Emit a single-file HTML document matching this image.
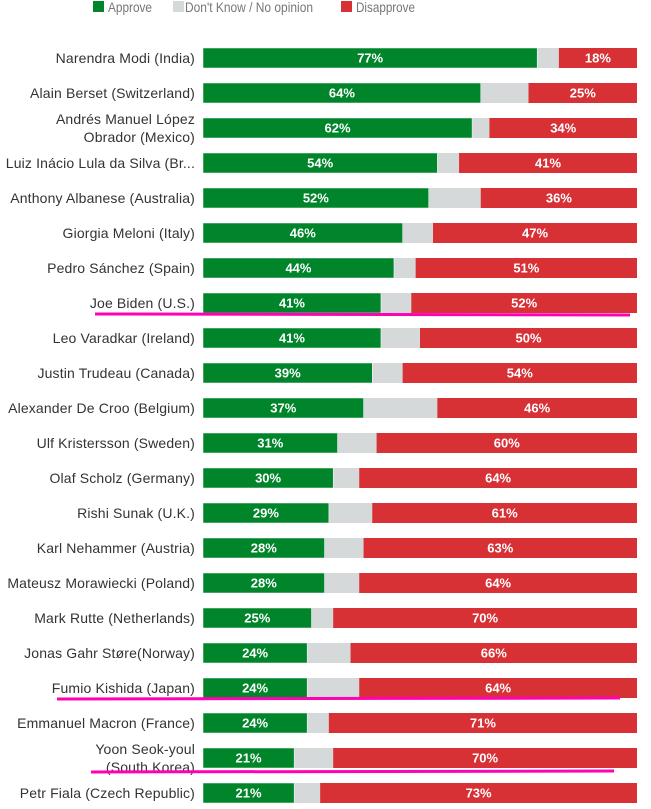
<!DOCTYPE html>
<html><head><meta charset="utf-8"><style>
body{margin:0;background:#fff;font-family:"Liberation Sans",sans-serif;}
svg{display:block}
</style></head><body>
<svg id="chart" width="651" height="809">
<g font-size="14" fill="#777">
<rect x="93" y="1" width="11" height="11" fill="#00852a"/>
<text x="108" y="12" textLength="44" lengthAdjust="spacingAndGlyphs">Approve</text>
<rect x="173" y="1" width="11" height="11" fill="#d6d9d9"/>
<text x="185" y="12" textLength="128" lengthAdjust="spacingAndGlyphs">Don't Know / No opinion</text>
<rect x="341" y="1" width="11" height="11" fill="#d73136"/>
<text x="356" y="12" textLength="59" lengthAdjust="spacingAndGlyphs">Disapprove</text>
</g>
<g id="rows"></g>
<g stroke="#ff00b4" stroke-width="3">
<line x1="95" y1="314" x2="630" y2="315"/>
<line x1="57" y1="699" x2="620" y2="698"/>
<line x1="91" y1="772" x2="614" y2="771"/>
</g>
</svg>
<script>
const leaders=[["Narendra Modi (India)"],["Alain Berset (Switzerland)"],["Andrés Manuel López","Obrador (Mexico)"],["Luiz Inácio Lula da Silva (Br..."],["Anthony Albanese (Australia)"],["Giorgia Meloni (Italy)"],["Pedro Sánchez (Spain)"],["Joe Biden (U.S.)"],["Leo Varadkar (Ireland)"],["Justin Trudeau (Canada)"],["Alexander De Croo (Belgium)"],["Ulf Kristersson (Sweden)"],["Olaf Scholz (Germany)"],["Rishi Sunak (U.K.)"],["Karl Nehammer (Austria)"],["Mateusz Morawiecki (Poland)"],["Mark Rutte (Netherlands)"],["Jonas Gahr Støre(Norway)"],["Fumio Kishida (Japan)"],["Emmanuel Macron (France)"],["Yoon Seok-youl","(South Korea)"],["Petr Fiala (Czech Republic)"]];
const approve=[77,64,62,54,52,46,44,41,41,39,37,31,30,29,28,28,25,24,24,24,21,21];
const disapprove=[18,25,34,41,36,47,51,52,50,54,46,60,64,61,63,64,70,66,64,71,70,73];
const x0=203,x1=637,top0=48,step=35,bh=20;
const xs=v=>x0+(x1-x0)*v/100;
const NS="http://www.w3.org/2000/svg";
const g=document.getElementById('rows');
function mk(t,a){const e=document.createElementNS(NS,t);for(const k in a)e.setAttribute(k,a[k]);return e;}
leaders.forEach((lab,i)=>{
 const y=top0+i*step, a=approve[i], d=disapprove[i];
 const r=mk('g',{});
 
 
 const lt=mk('text',{x:195,'text-anchor':'end','font-size':14,'letter-spacing':0.15,fill:'#333'});
 
 
 if(lab.length===1){lt.setAttribute('y',y+bh/2+5);lt.textContent=lab[0];}
 else{lab.forEach((s,j)=>{const ts=mk('tspan',{x:195,y:y+bh/2+5+(j===0?-9:9)});ts.textContent=s;lt.appendChild(ts);});}
 r.appendChild(lt);
 const bg=mk('rect',{x:x0,y:y,width:x1-x0,height:bh,fill:'#d6d9d9'});
 
 
 r.appendChild(bg);
 const ga=mk('rect',{x:x0,y:y,width:xs(a)-x0,height:bh,fill:'#00852a',stroke:'#fff','stroke-width':0.5});
 
 
 r.appendChild(ga);
 const rd=mk('rect',{x:xs(100-d),y:y,width:x1-xs(100-d),height:bh,fill:'#d73136'});
 
 
 r.appendChild(rd);
 const ta=mk('text',{x:(x0+xs(a))/2,y:y+bh/2+4.5,'text-anchor':'middle','font-size':13,'font-weight':'bold',fill:'#fff'});
 
 
 ta.textContent=a+'%';r.appendChild(ta);
 const td=mk('text',{x:(xs(100-d)+x1)/2,y:y+bh/2+4.5,'text-anchor':'middle','font-size':13,'font-weight':'bold',fill:'#fff'});
 
 
 td.textContent=d+'%';r.appendChild(td);
 g.appendChild(r);
});
</script>
</body></html>
